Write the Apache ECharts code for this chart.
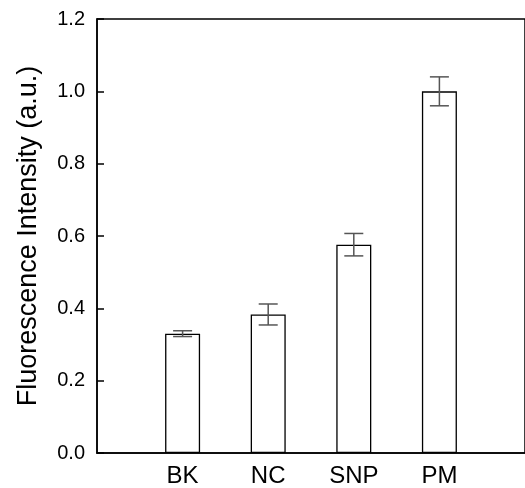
<!DOCTYPE html>
<html>
<head>
<meta charset="utf-8">
<script src="https://cdn.jsdelivr.net/npm/echarts@6/dist/echarts.min.js"></script>
<style>
  html, body { margin: 0; padding: 0; background: #fff; }
  #chart { width: 525px; height: 488px; }
</style>
</head>
<body>
<div id="chart"></div>
<script>
// 类别（两端留空位，与原图的刻度位置对应）
const categories = ['', 'BK', 'NC', 'SNP', 'PM', '']
const intensity = [null, 0.33, 0.383, 0.576, 1.0, null]
const errors = [null, 0.008, 0.029, 0.031, 0.04, null]
const yTicks = [0, 0.2, 0.4, 0.6, 0.8, 1.0, 1.2]

const fontFamily = 'Liberation Sans, Arial, sans-serif'

// 误差棒数据: [类别索引, 下限, 上限]
const errorData = intensity
  .map((v, i) => (v === null ? null : [i, v - errors[i], v + errors[i]]))
  .filter(d => d !== null)

const chart = echarts.init(document.getElementById('chart'))

const option = {
  animation: false,
  grid: {
    left: 97,
    top: 19,
    width: 435,
    height: 434,
    show: true,
    borderColor: '#000',
    borderWidth: 1.5,
    backgroundColor: 'transparent'
  },
  xAxis: {
    type: 'category',
    data: categories,
    boundaryGap: false,
    axisLine: { lineStyle: { color: '#000', width: 1.5 } },
    axisTick: {
      inside: true,
      length: 10,
      interval: (i, v) => v !== '',
      lineStyle: { color: '#000', width: 1.5 }
    },
    axisLabel: {
      interval: (i, v) => v !== '',
      color: '#000',
      fontSize: 24,
      fontFamily: fontFamily,
      margin: 11
    },
    splitLine: { show: false }
  },
  yAxis: {
    type: 'value',
    min: yTicks[0],
    max: yTicks[yTicks.length - 1],
    interval: 0.2,
    name: 'Fluorescence Intensity (a.u.)',
    nameLocation: 'middle',
    nameGap: 55,
    nameTextStyle: { color: '#000', fontSize: 27, fontFamily: fontFamily },
    axisLine: { show: true, lineStyle: { color: '#000', width: 1.5 } },
    axisTick: { show: true, inside: true, length: 7, lineStyle: { color: '#000', width: 1.5 } },
    axisLabel: {
      color: '#000',
      fontSize: 20,
      fontFamily: fontFamily,
      margin: 12,
      formatter: v => v.toFixed(1)
    },
    splitLine: { show: false }
  },
  series: [
    {
      type: 'bar',
      data: intensity,
      barWidth: 35,
      itemStyle: { color: '#fff', borderColor: '#000', borderWidth: 1.3 },
      z: 2
    },
    {
      type: 'custom',
      data: errorData,
      z: 3,
      renderItem: (params, api) => {
        const x = api.value(0)
        const lo = api.coord([x, api.value(1)])
        const hi = api.coord([x, api.value(2)])
        const half = 9.5
        const style = { stroke: '#555', lineWidth: 1.5 }
        return {
          type: 'group',
          children: [
            { type: 'line', shape: { x1: hi[0], y1: hi[1], x2: lo[0], y2: lo[1] }, style },
            { type: 'line', shape: { x1: hi[0] - half, y1: hi[1], x2: hi[0] + half, y2: hi[1] }, style },
            { type: 'line', shape: { x1: lo[0] - half, y1: lo[1], x2: lo[0] + half, y2: lo[1] }, style }
          ]
        }
      }
    }
  ]
}

chart.setOption(option)
</script>
</body>
</html>
